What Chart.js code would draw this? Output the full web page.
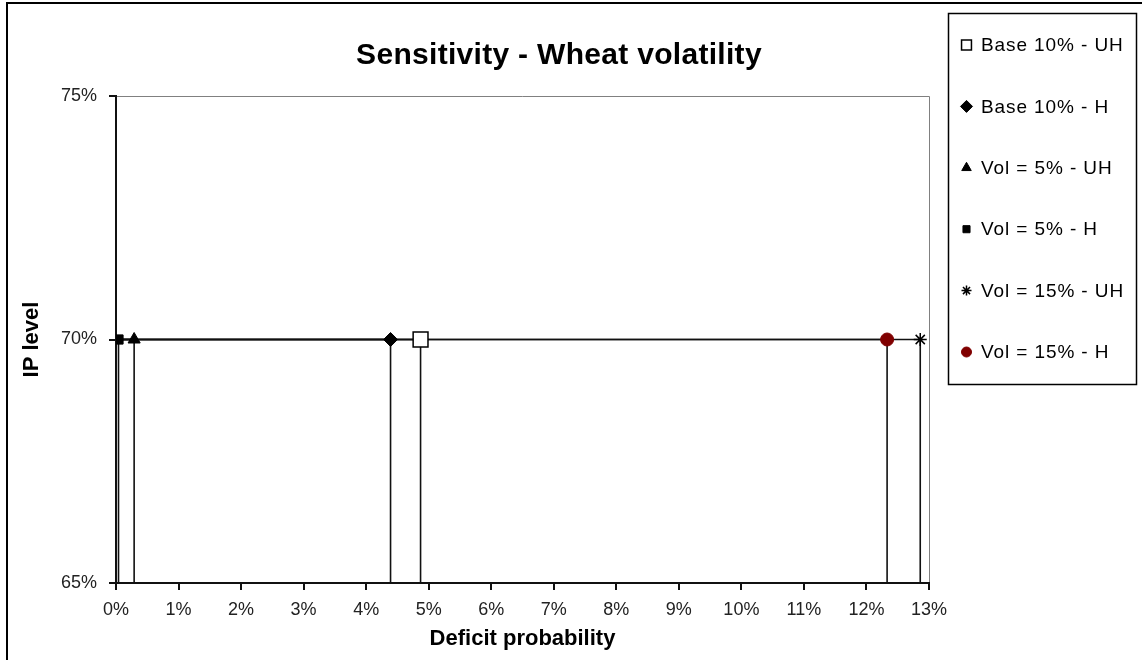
<!DOCTYPE html>
<html>
<head>
<meta charset="utf-8">
<title>Sensitivity - Wheat volatility</title>
<script src="https://cdn.jsdelivr.net/npm/chart.js@4"></script>
<style>
  html, body { margin: 0; padding: 0; background: #fff; }
  canvas { display: block; }
</style>
</head>
<body>
<canvas id="chart" width="1142" height="660"></canvas>
<script>
// ── data ──────────────────────────────────────────────────────────────────
const seriesNames = ['Base 10% - UH', 'Base 10% - H', 'Vol = 5% - UH', 'Vol = 5% - H', 'Vol = 15% - UH', 'Vol = 15% - H'];
const deficitProb = [0.0487, 0.0439, 0.0029, 0.0004, 0.1286, 0.1233];
const ipLevel     = [0.70, 0.70, 0.70, 0.70, 0.70, 0.70];
const xTickValues = [0, 0.01, 0.02, 0.03, 0.04, 0.05, 0.06, 0.07, 0.08, 0.09, 0.10, 0.11, 0.12, 0.13];
const yTickValues = [0.65, 0.70, 0.75];

// ── styles ────────────────────────────────────────────────────────────────
const FONT = '"Liberation Sans", Arial, sans-serif';
const markerStyle  = ['rect', 'rectRot', 'triangle', 'rect', 'star', 'circle'];
const markerRadius = [10.5, 7, 7, 6.5, 6.5, 6.5];
const legendRadius = [7, 6, 5.5, 5, 5, 5];
const markerFill   = ['#ffffff', '#000000', '#000000', '#000000', '#000000', '#800000'];
const markerLine   = ['#000000', '#000000', '#000000', '#000000', '#000000', '#800000'];
const markerWidth  = [1.5, 1, 1, 1, 1.5, 1];

const pct = v => Math.round(v * 100) + '%';

// ─── drop lines (Excel style error bars back to the axes) ─────────────────
const dropLines = {
  id: 'dropLines',
  beforeDatasetsDraw(chart) {
    const { ctx, scales: { x, y } } = chart;
    ctx.save();
    ctx.strokeStyle = '#111';
    ctx.lineWidth = 1.6;
    chart.data.datasets.forEach(ds => {
      ds.data.forEach(p => {
        const px = x.getPixelForValue(p.x);
        const py = y.getPixelForValue(p.y);
        ctx.beginPath();
        ctx.moveTo(x.getPixelForValue(x.min), py);
        ctx.lineTo(px, py);
        ctx.moveTo(px, py);
        ctx.lineTo(px, y.getPixelForValue(y.min));
        ctx.stroke();
      });
    });
    ctx.restore();
  }
};

// ─── frame, title, plot border, boxed legend ──────────────────────────────
const decorations = {
  id: 'decorations',
  beforeDraw(chart) {
    const { ctx, chartArea: a } = chart;
    ctx.save();
    ctx.strokeStyle = '#808080';
    ctx.lineWidth = 1;
    ctx.beginPath();
    ctx.moveTo(a.left, a.top + 0.5);
    ctx.lineTo(a.right + 0.5, a.top + 0.5);
    ctx.lineTo(a.right + 0.5, a.bottom);
    ctx.stroke();
    ctx.restore();
  },
  afterDraw(chart) {
    const { ctx } = chart;
    ctx.save();

    // outer chart frame (cropped on the right and bottom)
    ctx.fillStyle = '#000';
    ctx.fillRect(6, 2, chart.width - 6, 2);
    ctx.fillRect(6, 2, 2, chart.height - 2);

    // title
    ctx.fillStyle = '#000';
    ctx.font = 'bold 30px ' + FONT;
    ctx.textAlign = 'center';
    ctx.textBaseline = 'middle';
    if ('letterSpacing' in ctx) ctx.letterSpacing = '0.3px';
    ctx.fillText('Sensitivity - Wheat volatility', 559, 56);

    // legend box
    ctx.letterSpacing = '0px';
    ctx.strokeStyle = '#000';
    ctx.lineWidth = 1.5;
    ctx.strokeRect(948.5, 13.5, 188, 371);

    const helpers = Chart.helpers;
    chart.data.datasets.forEach((ds, i) => {
      const cy = 45 + i * 61.4;
      ctx.fillStyle = ds.backgroundColor;
      ctx.strokeStyle = ds.borderColor;
      ctx.lineWidth = ds.pointBorderWidth;
      helpers.drawPoint(ctx, {
        pointStyle: ds.pointStyle,
        radius: legendRadius[i],
        rotation: 0,
        borderWidth: ds.pointBorderWidth
      }, 966.5, cy);

      ctx.fillStyle = '#000';
      ctx.font = '19px ' + FONT;
      ctx.textAlign = 'left';
      ctx.textBaseline = 'middle';
      if ('letterSpacing' in ctx) ctx.letterSpacing = '0.9px';
      ctx.fillText(ds.label, 981, cy + 1);
      ctx.letterSpacing = '0px';
    });
    ctx.restore();
  }
};

// ─── chart ────────────────────────────────────────────────────────────────
const datasets = seriesNames.map((name, i) => ({
  label: name,
  data: [{ x: deficitProb[i], y: ipLevel[i] }],
  pointStyle: markerStyle[i],
  pointRadius: markerRadius[i],
  pointHoverRadius: markerRadius[i],
  pointBorderWidth: markerWidth[i],
  backgroundColor: markerFill[i],
  borderColor: markerLine[i],
  showLine: false
}));

const axisCommon = {
  grid: { drawOnChartArea: false, drawTicks: true, tickLength: 7, color: '#111', lineWidth: 2 },
  border: { display: true, color: '#111', width: 2 }
};

new Chart(document.getElementById('chart'), {
  type: 'scatter',
  data: { datasets },
  plugins: [dropLines, decorations],
  options: {
    responsive: false,
    animation: false,
    layout: { padding: { top: 96, right: 213, bottom: 0, left: 0 } },
    plugins: {
      legend: { display: false },
      tooltip: { enabled: false }
    },
    scales: {
      x: {
        ...axisCommon,
        type: 'linear',
        min: 0,
        max: 0.13,
        afterBuildTicks: s => { s.ticks = xTickValues.map(v => ({ value: v })); },
        afterFit: s => { s.height = 77; },
        ticks: {
          callback: pct,
          autoSkip: false,
          maxRotation: 0,
          padding: 9,
          color: '#222',
          font: { family: FONT, size: 18 }
        },
        title: {
          display: true,
          text: 'Deficit probability',
          color: '#000',
          font: { family: FONT, size: 22, weight: 'bold' },
          padding: { top: 0, bottom: 8 }
        }
      },
      y: {
        ...axisCommon,
        type: 'linear',
        min: 0.65,
        max: 0.75,
        afterBuildTicks: s => { s.ticks = yTickValues.map(v => ({ value: v })); },
        afterFit: s => { s.width = 116; },
        ticks: {
          callback: pct,
          autoSkip: false,
          padding: 12,
          color: '#222',
          font: { family: FONT, size: 18 }
        },
        title: {
          display: true,
          text: 'IP level',
          color: '#000',
          font: { family: FONT, size: 22, weight: 'bold' },
          padding: { top: 19, bottom: 0 }
        }
      }
    }
  }
});
</script>
</body>
</html>
